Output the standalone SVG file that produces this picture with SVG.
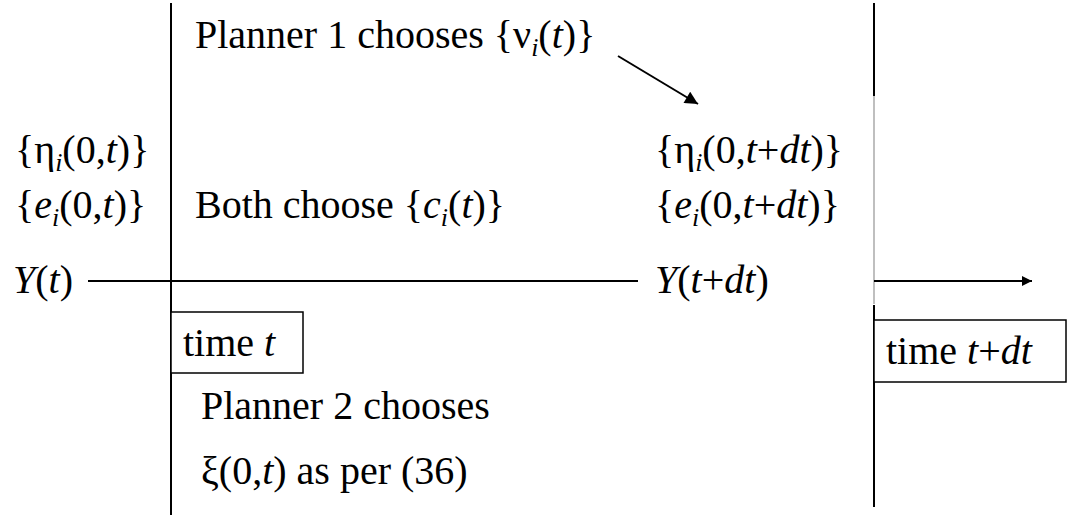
<svg xmlns="http://www.w3.org/2000/svg" width="1070" height="515" viewBox="0 0 1070 515">
<style>
text{font-family:'Liberation Serif','DejaVu Serif',serif;font-size:40px;fill:#000}
.i{font-style:italic}
.s{font-size:26px;font-style:italic}
.ln{stroke:#000;stroke-width:2;fill:none}
.gr{stroke:#aaa;stroke-width:1.5;fill:none}
.box{stroke:#000;stroke-width:1.5;fill:#fff}
</style>
<defs>
<marker id="ah" viewBox="0 0 10 10" refX="10" refY="5" markerWidth="12" markerHeight="10" markerUnits="userSpaceOnUse" orient="auto"><path d="M0,0L10,5L0,10z" fill="#000"/></marker>
<marker id="ah2" viewBox="0 0 10 10" refX="10" refY="5" markerWidth="14" markerHeight="13" markerUnits="userSpaceOnUse" orient="auto"><path d="M0,0L10,5L0,10z" fill="#000"/></marker>
</defs>
<g id="connectors">
<line class="ln" x1="171" y1="3" x2="171" y2="515"/>
<line class="ln" x1="874" y1="3" x2="874" y2="96"/>
<line class="gr" x1="874" y1="96" x2="874" y2="304"/>
<line class="ln" x1="874" y1="305" x2="874" y2="507"/>
<line class="ln" x1="88" y1="281" x2="638" y2="281"/>
<line class="ln" x1="874" y1="281" x2="1032" y2="281" marker-end="url(#ah)"/>
<line class="ln" x1="618" y1="56" x2="698" y2="104" marker-end="url(#ah2)"/>
</g>
<g id="planner1"><text x="195" y="48">Planner 1 chooses {ν<tspan class="s" dy="8">i</tspan><tspan dy="-8">(</tspan><tspan class="i">t</tspan>)}</text></g>
<g id="eta0"><text x="15" y="163">{η<tspan class="s" dy="8">i</tspan><tspan dy="-8">(0,</tspan><tspan class="i">t</tspan>)}</text></g>
<g id="e0"><text x="15" y="218">{<tspan class="i">e</tspan><tspan class="s" dy="8">i</tspan><tspan dy="-8">(0,</tspan><tspan class="i">t</tspan>)}</text></g>
<g id="Yt"><text x="13" y="293"><tspan class="i">Y</tspan>(<tspan class="i">t</tspan>)</text></g>
<g id="both"><text x="195" y="218">Both choose {<tspan class="i">c</tspan><tspan class="s" dy="8">i</tspan><tspan dy="-8">(</tspan><tspan class="i">t</tspan>)}</text></g>
<g id="eta1"><text x="655" y="163">{η<tspan class="s" dy="8">i</tspan><tspan dy="-8">(0,</tspan><tspan class="i">t</tspan>+<tspan class="i">dt</tspan>)}</text></g>
<g id="e1"><text x="655" y="218">{<tspan class="i">e</tspan><tspan class="s" dy="8">i</tspan><tspan dy="-8">(0,</tspan><tspan class="i">t</tspan>+<tspan class="i">dt</tspan>)}</text></g>
<g id="Y1"><text x="655" y="293"><tspan class="i">Y</tspan>(<tspan class="i">t</tspan>+<tspan class="i">dt</tspan>)</text></g>
<g id="timet"><rect class="box" x="171" y="312" width="132" height="61"/><text x="183" y="356">time <tspan class="i">t</tspan></text></g>
<g id="timetdt"><rect class="box" x="874" y="320" width="192" height="62"/><text x="886" y="364">time <tspan class="i">t</tspan>+<tspan class="i">dt</tspan></text></g>
<g id="planner2"><text x="201" y="419">Planner 2 chooses</text><text x="201" y="484">ξ(0,<tspan class="i">t</tspan>) as per (36)</text></g>
</svg>
